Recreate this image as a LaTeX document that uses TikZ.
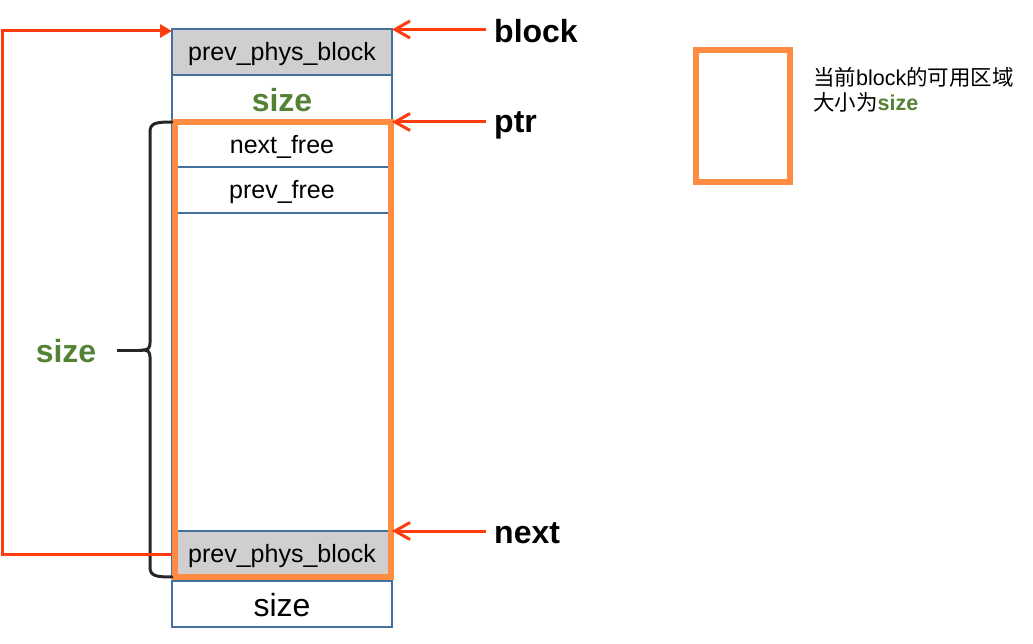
\documentclass[tikz,border=0pt]{standalone}
\usepackage{fontspec}
\setmainfont{Liberation Sans}
\newfontfamily\cjk{Noto Sans CJK SC}
\usetikzlibrary{arrows.meta}
\definecolor{cellblue}{HTML}{41719C}
\definecolor{cellgray}{HTML}{D0CECE}
\definecolor{sizegreen}{HTML}{548235}
\definecolor{orng}{HTML}{FF8C40}
\definecolor{redarr}{HTML}{FF3C0F}
\definecolor{bracecol}{HTML}{262626}
\newcommand\fcell{\fontsize{25}{29}\selectfont}
\newcommand\fbig{\fontsize{32}{38}\selectfont}
\newcommand\flegend{\fontsize{21.5}{26}\selectfont}
\begin{document}
\begin{tikzpicture}[x=1pt,y=-1pt,
  cell/.style={draw=cellblue,line width=1.7pt,minimum width=220pt,minimum height=46pt,inner sep=0pt,outer sep=0pt,anchor=north west},
  celltext/.style={inner sep=0pt},
  freebox/.style={draw=orng,line width=6pt,inner sep=0pt,outer sep=0pt,anchor=north west},
  lbl/.style={font=\fbig\bfseries,inner sep=0pt,anchor=base west},
  greenlbl/.style={font=\fbig\bfseries,text=sizegreen,inner sep=0pt},
  redline/.style={draw=redarr,line width=3pt},
  pointer/.style={redline,-{Straight Barb[length=15pt,width=17pt,line width=3pt]}},
  looparrow/.style={redline,-{Triangle[length=12pt,width=13pt]}},
  bracepath/.style={draw=bracecol,line width=3pt,line cap=round}]
\useasboundingbox (0,0) rectangle (1033,644);

% memory cells
\node[cell,fill=cellgray] (top) at (172,29) {};
\node[cell] (sz) at (172,75) {};
\node[cell] (nf) at (172,121) {};
\node[cell] (pf) at (172,167) {};
\node[cell,minimum height=318pt] (body) at (172,213) {};
\node[cell,fill=cellgray] (gray) at (172,531) {};
\node[cell] (bsz) at (172,581) {};
\node[celltext] (topt) at ([yshift=-2.5pt]top.center) {\fcell prev\_phys\_block};
\node[celltext] (szt) at ([yshift=-2pt]sz.center) {\fbig\bfseries\color{sizegreen}size};
\node[celltext] (nft) at ([yshift=-2.5pt]nf.center) {\fcell next\_free};
\node[celltext] (pft) at ([yshift=-2.5pt]pf.center) {\fcell prev\_free};
\node[celltext] (grayt) at ([yshift=-2.5pt]gray.center) {\fcell prev\_phys\_block};
\node[celltext] (bszt) at ([yshift=-1.5pt]bsz.center) {\fbig size};

% usable region
\node[freebox,minimum width=216pt,minimum height=454pt] (free) at (174.5,122.5) {};

% brace
\coordinate (btop) at (172,122);
\coordinate (btip) at (143,350);
\coordinate (bbot) at (172,577);
\draw[bracepath] (btop) .. controls (156,122) and (150,123) .. (150,132) -- (150,343)
  .. controls (150,348) and (148,350) .. (btip)
  .. controls (148,350) and (150,352) .. (150,357) -- (150,567)
  .. controls (150,576) and (156,577) .. (bbot);
\node[greenlbl] (lsize) at (66,351) {size};
\coordinate (ticks) at (117,350);
\draw[bracepath,line cap=butt] (ticks) -- (btip);

% pointer labels
\node[lbl] (blockl) at (494,43) {block};
\node[lbl] (ptrl) at (494,133) {ptr};
\node[lbl] (nextl) at (494,543) {next};
\coordinate (ablock) at (486,29.5);
\coordinate (aptr) at (486,122);
\coordinate (anext) at (486,531);
\draw[pointer] (ablock) -- (ablock -| top.east);
\draw[pointer] (aptr) -- (aptr -| top.east);
\draw[pointer] (anext) -- (anext -| top.east);

% prev_phys_block loop
\coordinate (loopx) at (2,0);
\coordinate (loopend) at (172,31);
\draw[looparrow] (gray.west) -- (gray.west -| loopx) -- (loopx |- loopend) -- (loopend);

% legend
\node[freebox,line width=6.5pt,minimum width=94pt,minimum height=132pt] (legbox) at (696,50) {};
\node[inner sep=0pt,anchor=base west] (leg1) at (813,86) {\flegend{\cjk 当前}block{\cjk 的可用区域}};
\node[inner sep=0pt,anchor=base west] (leg2) at (813,111) {\flegend{\cjk 大小为}{\bfseries\color{sizegreen}size}};
\end{tikzpicture}
\end{document}
